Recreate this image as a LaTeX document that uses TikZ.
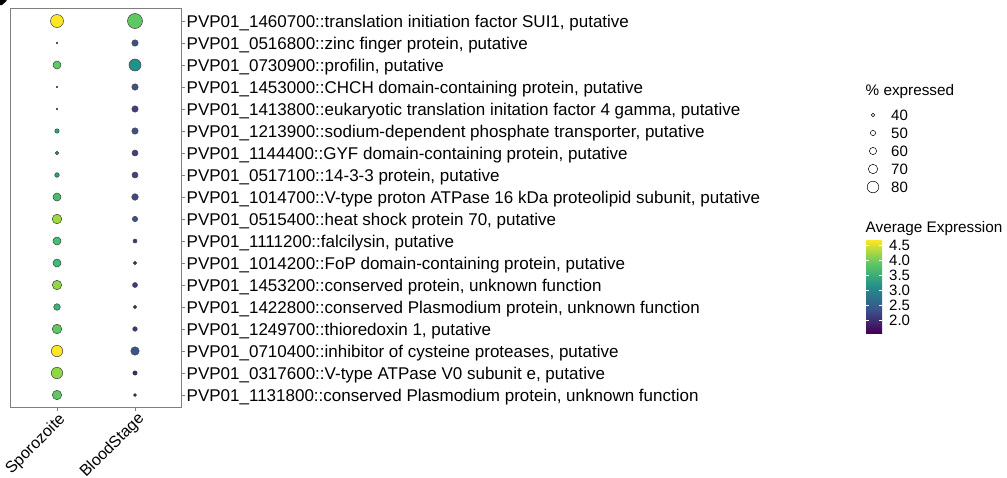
\documentclass[tikz,border=0pt]{standalone}
\usepackage{fontspec}
\setmainfont{Liberation Sans}
\begin{document}
% viridis palette used by the dots and the colour bar
\definecolor{yel}{HTML}{FDE725}
\definecolor{yg}{HTML}{9FDA3A}
\definecolor{lg}{HTML}{8FD744}
\definecolor{g1}{HTML}{5EC962}
\definecolor{g2}{HTML}{44BF70}
\definecolor{g3}{HTML}{3CBC75}
\definecolor{g4}{HTML}{35B779}
\definecolor{t1}{HTML}{22A884}
\definecolor{t2}{HTML}{20A386}
\definecolor{t3}{HTML}{1F9A8A}
\definecolor{tl}{HTML}{21918C}
\definecolor{b1}{HTML}{3B528B}
\definecolor{b2}{HTML}{39568C}
\definecolor{p1}{HTML}{433E85}
\definecolor{p2}{HTML}{414487}
\definecolor{p3}{HTML}{404688}
\definecolor{p4}{HTML}{472F7D}
\definecolor{p5}{HTML}{482374}
\definecolor{p6}{HTML}{453781}
\definecolor{p7}{HTML}{481B6D}
\definecolor{p8}{HTML}{46337E}
\definecolor{p9}{HTML}{482576}
\definecolor{p10}{HTML}{440154}
\definecolor{tiny}{HTML}{1A1A1A}
\definecolor{vir0}{HTML}{440154}
\definecolor{vir1}{HTML}{3B528B}
\definecolor{vir2}{HTML}{21908C}
\definecolor{vir3}{HTML}{5DC863}
\definecolor{vir4}{HTML}{FDE725}
\definecolor{axisgray}{HTML}{7F7F7F}
\begin{tikzpicture}[x=1pt,y=-1pt,
  dot/.style={circle,draw=black!75,line width=0.5pt,inner sep=0pt},
  keydot/.style={circle,draw=black,line width=0.5pt,fill=white,inner sep=0pt},
  genelab/.style={anchor=base west,inner sep=0pt,font=\fontsize{17}{19}\selectfont},
  axislab/.style={anchor=north east,inner sep=0pt,rotate=45,font=\fontsize{16}{18}\selectfont},
  legtitle/.style={anchor=base west,inner sep=0pt,font=\fontsize{15.3}{17}\selectfont},
  legtext/.style={anchor=base west,inner sep=0pt,font=\fontsize{15}{16}\selectfont},
  tickmark/.style={draw=axisgray,line width=0.9pt},
  frame/.style={draw=axisgray,line width=1pt},
  bartick/.style={draw=white,line width=0.6pt}]
\useasboundingbox (0,0) rectangle (1007,477);

% corner mark
\fill (0,0) -- (6.5,0) -- (6.5,1) -- (2,5) -- (0,5) -- cycle;

% panel
\draw[frame] (10,8) rectangle (181,407);

% rows: gene label, Sporozoite dot, BloodStage dot
\foreach \i/\gene/\sc/\sd/\bc/\bd in {
 0/{PVP01\_1460700::translation initiation factor SUI1, putative}/yel/13/g1/15,
 1/{PVP01\_0516800::zinc finger protein, putative}/tiny/1.6/b1/6.4,
 2/{PVP01\_0730900::profilin, putative}/g1/8/tl/12,
 3/{PVP01\_1453000::CHCH domain-containing protein, putative}/tiny/1.6/b1/6.4,
 4/{PVP01\_1413800::eukaryotic translation initation factor 4 gamma, putative}/tiny/1.6/p1/6.4,
 5/{PVP01\_1213900::sodium-dependent phosphate transporter, putative}/t1/4.4/b1/6.4,
 6/{PVP01\_1144400::GYF domain-containing protein, putative}/t3/3.6/p1/6,
 7/{PVP01\_0517100::14-3-3 protein, putative}/t2/4.6/p2/6,
 8/{PVP01\_1014700::V-type proton ATPase 16 kDa proteolipid subunit, putative}/g2/8/p3/6.6,
 9/{PVP01\_0515400::heat shock protein 70, putative}/yg/9.6/b1/5.4,
 10/{PVP01\_1111200::falcilysin, putative}/g2/8/p4/4,
 11/{PVP01\_1014200::FoP domain-containing protein, putative}/g3/8/p5/3.4,
 12/{PVP01\_1453200::conserved protein, unknown function}/lg/9.4/p6/5,
 13/{PVP01\_1422800::conserved Plasmodium protein, unknown function}/g4/6.6/p7/3.4,
 14/{PVP01\_1249700::thioredoxin 1, putative}/g1/9.6/p8/4.6,
 15/{PVP01\_0710400::inhibitor of cysteine proteases, putative}/yel/11.4/b2/8.4,
 16/{PVP01\_0317600::V-type ATPase V0 subunit e, putative}/lg/11.4/p9/4.4,
 17/{PVP01\_1131800::conserved Plasmodium protein, unknown function}/g1/9.4/p10/3}{
  \pgfmathsetmacro{\yy}{21+22*\i}
  \draw[tickmark] (181,\yy) -- (185,\yy);
  \node[genelab] (g\i) at (186.5,\yy+6.1) {\gene};
  \node[dot,fill=\sc,minimum size=\sd pt] (s\i) at (57,\yy) {};
  \node[dot,fill=\bc,minimum size=\bd pt] (b\i) at (135,\yy) {};
}

% x axis
\draw[tickmark] (57,407) -- (57,411);
\draw[tickmark] (135,407) -- (135,411);
\node[axislab] (xs) at (57.5,412) {Sporozoite};
\node[axislab] (xb) at (136.5,411) {BloodStage};

% size legend
\node[legtitle] (pt) at (865.5,95) {\% expressed};
\foreach \k/\lab/\d/\yy in {0/40/3.4/115,1/50/5.2/133,2/60/7.2/151,3/70/9.4/169,4/80/11.6/187}{
  \node[keydot,minimum size=\d pt] (k\k) at (873,\yy) {};
  \node[legtext] (kl\k) at (891,\yy+5.4) {\lab};
}

% colour bar
\node[legtitle] (ct) at (865.5,232) {Average Expression};
\shade[bottom color=vir0,top color=vir1] (866,333) rectangle (882,309.75);
\shade[bottom color=vir1,top color=vir2] (866,309.75) rectangle (882,286.5);
\shade[bottom color=vir2,top color=vir3] (866,286.5) rectangle (882,263.25);
\shade[bottom color=vir3,top color=vir4] (866,263.25) rectangle (882,240);
\foreach \k/\lab in {0/4.5,1/4.0,2/3.5,3/3.0,4/2.5,5/2.0}{
  \pgfmathsetmacro{\yy}{245+15*\k}
  \draw[bartick] (866,\yy) -- (869,\yy);
  \draw[bartick] (879,\yy) -- (882,\yy);
  \node[legtext] (cl\k) at (889,\yy+5.4) {\lab};
}
\end{tikzpicture}
\end{document}
